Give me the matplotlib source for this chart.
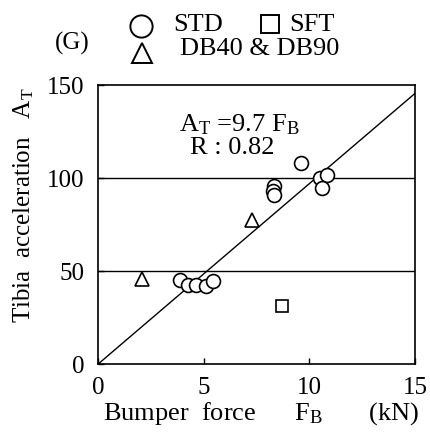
import matplotlib.pyplot as plt
import numpy as np

plt.rcParams['font.family'] = 'Liberation Serif'
plt.rcParams['mathtext.fontset'] = 'custom'
plt.rcParams['mathtext.rm'] = 'Liberation Serif'
plt.rcParams['mathtext.it'] = 'Liberation Serif'

std_x = [9.6, 8.35, 8.3, 8.35, 10.5, 10.85, 10.6, 3.9, 4.25, 4.65, 5.1, 5.45]
std_y = [108, 96, 93, 91, 100, 101.5, 94.5, 45, 42.5, 42.5, 42, 44.5]
sft_x = [8.7]
sft_y = [31]
db_x = [2.1, 7.3]
db_y = [46, 77.5]
slope = 9.7

fig = plt.figure(figsize=(4.30, 4.34), dpi=100)
ax = fig.add_axes([0.228, 0.161, 0.737, 0.643])

fx = np.array([0, 15])
ax.plot(fx, slope * fx, color='black', lw=1.0)
ax.axhline(50, color='black', lw=1.0)
ax.axhline(100, color='black', lw=1.0)

mk = dict(mfc='white', mec='black', mew=1.2, ls='none', ms=10)
ax.plot(std_x, std_y, marker='o', **mk)
ax.plot(sft_x, sft_y, marker='s', **dict(mk, ms=9))
ax.plot(db_x, db_y, marker='^', **mk)

ax.set_xlim(0, 15)
ax.set_ylim(0, 150)
ax.set_xticks([0, 5, 10, 15])
ax.set_yticks([0, 50, 100, 150])
ax.tick_params(direction='in', length=4, labelsize=18, width=1)
ax.tick_params(axis='x', pad=9)
ax.tick_params(axis='y', pad=10)
for s in ax.spines.values():
    s.set_linewidth(1.2)

ax.text(3.85, 128.5, r'A$_\mathrm{T}$ =9.7 F$_\mathrm{B}$', fontsize=19, va='center')
ax.text(4.35, 116, 'R : 0.82', fontsize=19, va='center')

ax.set_xlabel(r'Bumper  force      F$_\mathrm{B}$       (kN)', fontsize=19)
ax.xaxis.set_label_coords(0.515, -0.13)
ax.set_ylabel(r'Tibia  acceleration   A$_\mathrm{T}$', fontsize=18)
ax.yaxis.set_label_coords(-0.195, 0.57)

# legend drawn at the top
fig.text(0.167, 0.899, '(G)', fontsize=18, ha='center', va='center')
lm = dict(mfc='white', mec='black', mew=1.4, ls='none', clip_on=False, transform=fig.transFigure)
fig.add_artist(plt.Line2D([0.328], [0.939], marker='o', ms=16, **lm))
fig.add_artist(plt.Line2D([0.628], [0.945], marker='s', ms=13, **lm))
fig.add_artist(plt.Line2D([0.330], [0.877], marker='^', ms=15, **lm))
fig.text(0.402, 0.942, 'STD', fontsize=19, va='center')
fig.text(0.672, 0.942, 'SFT', fontsize=19, va='center')
fig.text(0.419, 0.886, 'DB40 & DB90', fontsize=19, va='center')

fig.savefig('out.png', dpi=100)
